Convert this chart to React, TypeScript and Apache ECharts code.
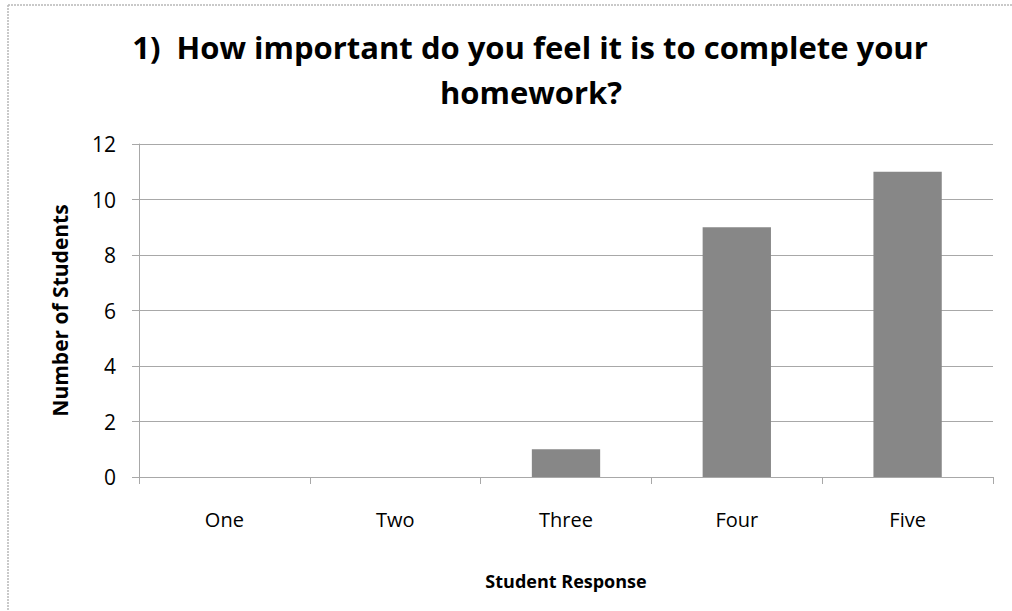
import React, { useEffect, useRef } from "react";
import * as echarts from "echarts";

const categories = ["One", "Two", "Three", "Four", "Five"];
const values = [0, 0, 1, 9, 11];
const titleLines = ["1)  How important do you feel it is to complete your", "homework?"];
const yAxisName = "Number of Students";
const xAxisName = "Student Response";

const FONT = "'Open Sans', Lato, sans-serif";

export default function App() {
  const ref = useRef<HTMLDivElement>(null);
  useEffect(() => {
    document.body.style.margin = "0";
    const chart = echarts.init(ref.current!, null, { renderer: "svg" });
    chart.setOption({
      animation: false,
      backgroundColor: "#ffffff",
      textStyle: { fontFamily: FONT },
      grid: { left: 139, right: 19, top: 144, bottom: 134, containLabel: false },
      graphic: [
        { type: "line", shape: { x1: 8, y1: 5, x2: 1012, y2: 5 }, style: { stroke: "#b8b8b8", lineWidth: 1.5, lineDash: [2, 1] } },
        { type: "line", shape: { x1: 8, y1: 5, x2: 8, y2: 611 }, style: { stroke: "#b8b8b8", lineWidth: 1.5, lineDash: [2, 1] } },
        { type: "text", style: { text: titleLines[0], x: 530, y: 47, align: "center", verticalAlign: "middle", font: `bold 31px ${FONT}`, fill: "#000" } },
        { type: "text", style: { text: titleLines[1], x: 531, y: 92, align: "center", verticalAlign: "middle", font: `bold 31px ${FONT}`, fill: "#000" } },
      ],
      xAxis: {
        type: "category",
        data: categories,
        name: xAxisName,
        nameLocation: "middle",
        nameGap: 95,
        nameTextStyle: { fontWeight: "bold", fontSize: 18, color: "#000", fontFamily: FONT },
        axisLine: { show: true, lineStyle: { color: "#a8a8a8", width: 1 } },
        axisTick: { show: true, length: 7, alignWithLabel: false, lineStyle: { color: "#a8a8a8" } },
        axisLabel: { fontSize: 20, color: "#000", margin: 32, fontFamily: FONT },
        splitLine: { show: false },
      },
      yAxis: {
        type: "value",
        min: 0,
        max: 12,
        interval: 2,
        name: yAxisName,
        nameLocation: "middle",
        nameGap: 69,
        nameTextStyle: { fontWeight: "bold", fontSize: 21, color: "#000", fontFamily: FONT },
        axisLine: { show: true, lineStyle: { color: "#a8a8a8", width: 1 } },
        axisTick: { show: true, length: 7, lineStyle: { color: "#a8a8a8" } },
        axisLabel: { fontSize: 21, color: "#000", margin: 23, fontFamily: FONT },
        splitLine: { show: true, lineStyle: { color: "#a8a8a8", width: 1 } },
      },
      series: [
        {
          type: "bar",
          data: values,
          barWidth: "40%",
          itemStyle: { color: "#878787" },
        },
      ],
    });
    return () => chart.dispose();
  }, []);
  return <div ref={ref} style={{ position: "fixed", left: 0, top: 0, width: 1012, height: 611 }} />;
}
